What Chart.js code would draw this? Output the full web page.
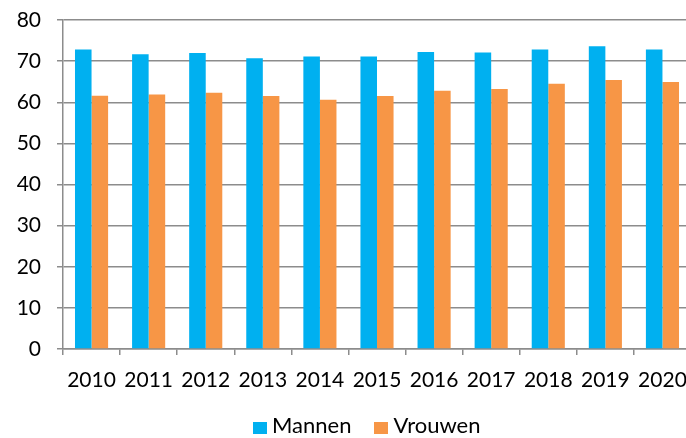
<!DOCTYPE html>
<html>
<head>
<meta charset="utf-8">
<script src="https://cdn.jsdelivr.net/npm/chart.js@4"></script>
<style>
  html, body { margin: 0; padding: 0; background: #fff; overflow: hidden; }
  #wrap { position: relative; width: 700px; height: 438px; }
  #legend { position: absolute; top: 412px; left: 253px; font-family: Lato; font-size: 22px; line-height: 26px; color: #000; white-space: nowrap; }
  #legend span.box { display: inline-block; width: 14px; height: 12px; margin-right: 5px; vertical-align: -1px; }
  #legend span.item { margin-right: 23px; }
</style>
</head>
<body>
<div id="wrap">
  <canvas id="chart" width="700" height="438"></canvas>
  <div id="legend"></div>
</div>
<script>
var years = ["2010","2011","2012","2013","2014","2015","2016","2017","2018","2019","2020"];
var mannen = [72.8, 71.7, 72.0, 70.7, 71.1, 71.1, 72.2, 72.1, 72.8, 73.6, 72.8];
var vrouwen = [61.6, 61.9, 62.3, 61.5, 60.6, 61.5, 62.8, 63.2, 64.5, 65.4, 64.9];
var seriesNames = ["Mannen", "Vrouwen"];
var seriesColors = ["#00B0F0", "#F79646"];

var gridColor = "#8c8c8c";
var font = { family: "Lato", size: 21 };

var ctx = document.getElementById("chart");
var chart = new Chart(ctx, {
  type: "bar",
  data: {
    labels: years,
    datasets: [
      { label: seriesNames[0], data: mannen, backgroundColor: seriesColors[0] },
      { label: seriesNames[1], data: vrouwen, backgroundColor: seriesColors[1] }
    ]
  },
  options: {
    responsive: false,
    animation: false,
    layout: { padding: { top: 20, left: 0, right: 4, bottom: 0 } },
    datasets: { bar: { categoryPercentage: 0.58, barPercentage: 1.0 } },
    plugins: {
      tooltip: { enabled: false },
      legend: { display: false }
    },
    scales: {
      x: {
        grid: { offset: true, drawOnChartArea: false, color: gridColor, lineWidth: 1.5, tickLength: 6 },
        border: { color: gridColor, width: 1.5 },
        ticks: { color: "#000", font: font, padding: 13, maxRotation: 0, autoSkip: false },
        afterFit: function(scale) { scale.height = 89; }
      },
      y: {
        min: 0, max: 80,
        grid: { color: gridColor, lineWidth: 1.5, tickLength: 6 },
        border: { color: gridColor, width: 1.5 },
        ticks: { color: "#000", font: font, stepSize: 10, padding: 16 },
        afterFit: function(scale) {
          scale.width = 63;
          scale.paddingTop = 0;
          scale.paddingBottom = 0;
        }
      }
    }
  }
});

// legend in html, so it sits where the original one was
var legend = document.getElementById("legend");
chart.data.datasets.forEach(function(ds) {
  var item = document.createElement("span");
  item.className = "item";
  var box = document.createElement("span");
  box.className = "box";
  box.style.background = ds.backgroundColor;
  item.appendChild(box);
  item.appendChild(document.createTextNode(ds.label));
  legend.appendChild(item);
});
</script>
</body>
</html>
